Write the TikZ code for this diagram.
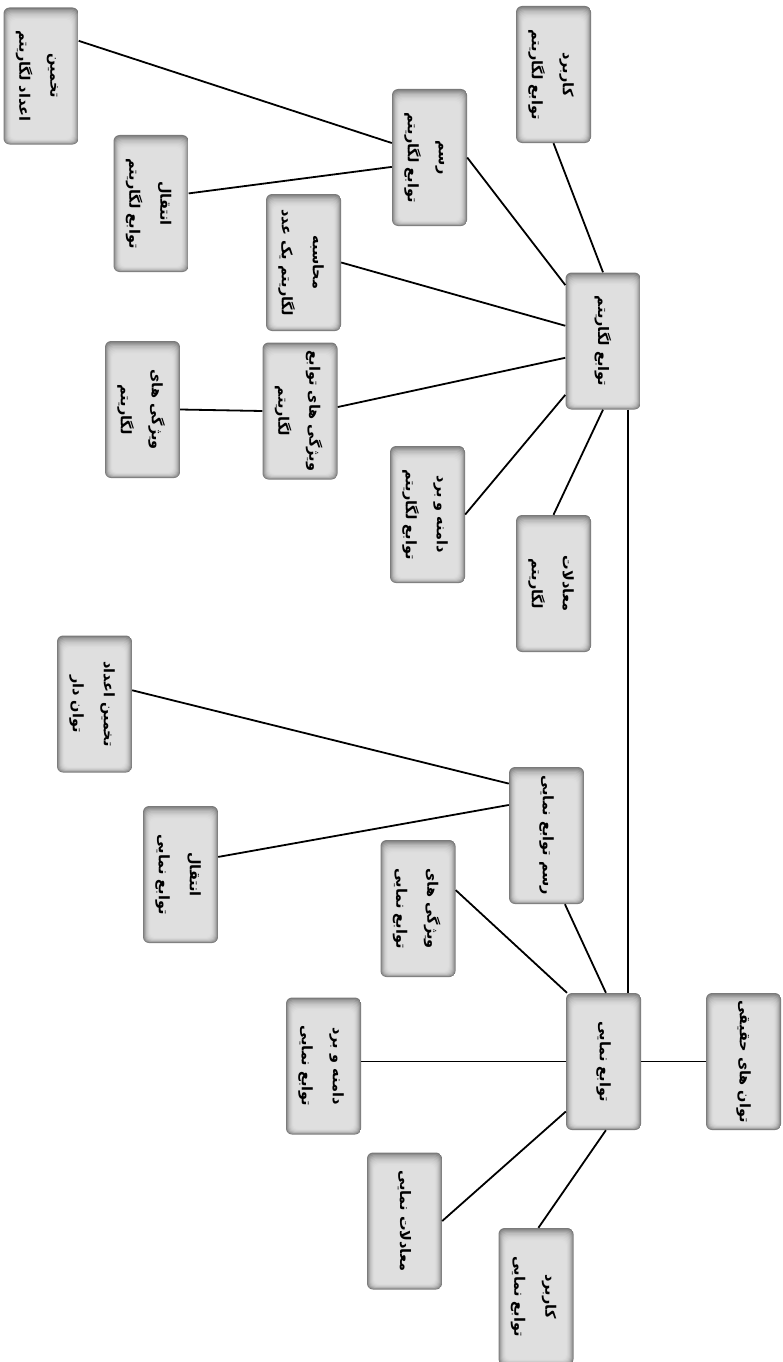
\documentclass[tikz,border=0pt]{standalone}
\usepackage{graphicx}
\usepackage{fontspec}
\usetikzlibrary{calc}
\TeXXeTstate=1
\newfontfamily\arabicfont[Script=Arabic]{DejaVu Sans}
\newcommand\twol[2]{\rotatebox{-90}{\arabicfont\bfseries\fontsize{14.5}{31}\selectfont\begin{tabular}{@{}c@{}}#1\\#2\end{tabular}}}
\newcommand\onel[1]{\rotatebox{-90}{\arabicfont\bfseries\fontsize{14.5}{31}\selectfont #1}}
\tikzset{
  box/.style={rectangle, rounded corners=6pt, minimum width=75pt, minimum height=137pt, inner sep=0pt,
    path picture={
      \foreach \i/\c in {0/52,1/44,2/37,3/31,4/26,5/22,6/19,7/16.5,8/14.5,9/13,10/12.5}{
        \fill[black!\c, rounded corners=5pt]
          ($(path picture bounding box.north west)+(0.75*\i,1.3*\i)$) rectangle
          ($(path picture bounding box.south east)+(-0.75*\i,-0.55*\i)$);
      }
    }},
  conn/.style={line width=1.8pt, black}
}
\begin{document}
\begin{tikzpicture}[x=1pt,y=-1pt]
\useasboundingbox (0,0) rectangle (783,1362);
% logarithm part
\node[box] (n1) at (41,76) {\twol{\beginR تخمین\endR}{\beginR اعداد لگاریتم\endR}};
\node[box] (n2) at (429.5,157.5) {\twol{\beginR رسم\endR}{\beginR توابع لگاریتم\endR}};
\node[box] (n3) at (151,203.5) {\twol{\beginR انتقال\endR}{\beginR توابع لگاریتم\endR}};
\node[box] (n4) at (303.5,262.5) {\twol{\beginR محاسبه\endR}{\beginR لگاریتم یک عدد\endR}};
\node[box] (n5) at (300,411) {\twol{\beginR ویژگی های توابع\endR}{\beginR لگاریتم\endR}};
\node[box] (n6) at (142.5,409.5) {\twol{\beginR ویژگی های\endR}{\beginR لگاریتم\endR}};
\node[box] (n7) at (427.5,514.5) {\twol{\beginR دامنه و برد\endR}{\beginR توابع لگاریتم\endR}};
\node[box] (n8) at (553.5,583.5) {\twol{\beginR معادلات\endR}{\beginR لگاریتم\endR}};
\node[box] (n9) at (553.5,74.5) {\twol{\beginR کاربرد\endR}{\beginR توابع لگاریتم\endR}};
\node[box] (n10) at (603,341) {\onel{\beginR توابع لگاریتم\endR}};
% exponential part
\node[box] (n11) at (94.5,704) {\twol{\beginR تخمین اعداد\endR}{\beginR توان دار\endR}};
\node[box] (n12) at (546.5,835.5) {\onel{\beginR رسم توابع نمایی\endR}};
\node[box] (n13) at (180.5,874.5) {\twol{\beginR انتقال\endR}{\beginR توابع نمایی\endR}};
\node[box] (n14) at (418,908.5) {\twol{\beginR ویژگی های\endR}{\beginR توابع نمایی\endR}};
\node[box] (n15) at (323.5,1066) {\twol{\beginR دامنه و برد\endR}{\beginR توابع نمایی\endR}};
\node[box] (n16) at (603.5,1061.5) {\onel{\beginR توابع نمایی\endR}};
\node[box] (n17) at (743.5,1061.5) {\onel{\beginR توان های حقیقی\endR}};
\node[box] (n18) at (404.5,1221) {\onel{\beginR معادلات نمایی\endR}};
\node[box] (n19) at (536,1296.5) {\twol{\beginR کاربرد\endR}{\beginR توابع نمایی\endR}};
% connectors
\draw[conn] (n1.43.4) -- (n2.159.4);
\draw[conn] (n3.15.4) -- (n2.194.5);
\draw[conn] (n2.east) -- (n10.124.6);
\draw[conn] (n9.270) -- (n10.90.8);
\draw[conn] (n4.east) -- (n10.158.5);
\draw[conn] (n5.6) -- (n10.204.1);
\draw[conn] (n6.east) -- (n5.west);
\draw[conn] (n7.east) -- (n10.235.3);
\draw[conn] (n8.north) -- (n10.south);
\coordinate (v) at ($(n10.south)!0.67!(n10.south east)$);
\draw[conn] (v) -- (v |- n16.north);
\draw[conn] (n11.20.5) -- (n12.126.1);
\draw[conn] (n13.25) -- (n12.141.2);
\draw[conn] (n12.285.9) -- (n16.88.7);
\draw[conn] (n14.26) -- (n16.118.8);
\draw[conn] (n16.west) -- (n16.west -| n15.east);
\draw[conn] (n16.east) -- (n17.west);
\draw[conn] (n16.233.9) -- (n18.east);
\draw[conn] (n16.272.1) -- (n19.88.3);
\end{tikzpicture}
\end{document}
